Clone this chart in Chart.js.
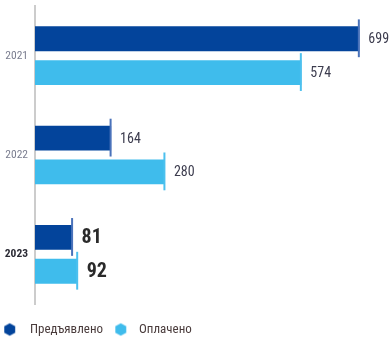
<!DOCTYPE html>
<html>
<head>
<meta charset="utf-8">
<script src="https://cdn.jsdelivr.net/npm/chart.js@4"></script>
<style>
  html, body { margin: 0; padding: 0; background: #ffffff; }
  #wrap { width: 392px; height: 345px; position: relative; }
</style>
</head>
<body>
<div id="wrap"><canvas id="c"></canvas></div>
<script>
const years = ['2021', '2022', '2023'];
const seriesNames = ['Предъявлено', 'Оплачено'];
const presented = [699, 164, 81];
const paid = [574, 280, 92];
const seriesColors = ['#03449b', '#3fbcec'];
const capColors = ['#4a72ba', '#4cc0ee'];

const FONT = '"Roboto Condensed", "Open Sans", sans-serif';

function hexIcon(color, offset) {
  const c = document.createElement('canvas');
  c.width = 40; c.height = 16;
  const g = c.getContext('2d');
  const cx = 20 + offset, cy = 8, r = 6.3;
  g.fillStyle = color;
  g.beginPath();
  for (let i = 0; i < 6; i++) {
    const a = Math.PI / 180 * (60 * i - 90);
    const px = cx + r * Math.cos(a), py = cy + r * Math.sin(a);
    if (i === 0) g.moveTo(px, py); else g.lineTo(px, py);
  }
  g.closePath();
  g.fill();
  return c;
}

const endCapsAndLabels = {
  id: 'endCapsAndLabels',
  afterDatasetsDraw(chart) {
    const ctx = chart.ctx;
    chart.data.datasets.forEach((ds, di) => {
      const meta = chart.getDatasetMeta(di);
      meta.data.forEach((bar, i) => {
        const h = bar.height;
        ctx.save();
        ctx.strokeStyle = capColors[di];
        ctx.lineWidth = 2;
        ctx.beginPath();
        ctx.moveTo(bar.x - 0.5, bar.y - h / 2 - 7);
        ctx.lineTo(bar.x - 0.5, bar.y + h / 2 + 6);
        ctx.stroke();
        const bold = i === 2;
        ctx.font = (bold ? 'bold 20px ' : '14px ') + FONT;
        ctx.fillStyle = bold ? '#2a2a2a' : '#3c3c4e';
        ctx.textAlign = 'left';
        ctx.textBaseline = 'middle';
        ctx.fillText(String(ds.data[i]), bar.x + 9, bar.y + 1);
        ctx.restore();
      });
    });
  }
};

new Chart(document.getElementById('c'), {
  type: 'bar',
  data: {
    labels: years,
    datasets: [
      { label: seriesNames[0], data: presented, backgroundColor: seriesColors[0], pointStyle: hexIcon(seriesColors[0], -8.5),
        categoryPercentage: 0.68, barPercentage: 0.735 },
      { label: seriesNames[1], data: paid, backgroundColor: seriesColors[1], pointStyle: hexIcon(seriesColors[1], -6.5),
        categoryPercentage: 0.68, barPercentage: 0.735 }
    ]
  },
  options: {
    indexAxis: 'y',
    responsive: true,
    maintainAspectRatio: false,
    animation: false,
    layout: { padding: { top: 6, right: 9, bottom: 0, left: -6 } },
    scales: {
      x: { display: false, min: 0, max: 750 },
      y: {
        grid: { display: false, drawTicks: false },
        border: { display: true, color: '#cccccc', width: 2 },
        afterFit(scale) { scale.width = 41; scale.paddingTop = 0; scale.paddingBottom = 0; },
        ticks: {
          padding: 7,
          color: (c) => c.index === 2 ? '#2b2b35' : '#7a7d8f',
          font: (c) => c.index === 2 ? { family: FONT, size: 11.5, weight: 'bold' } : { family: FONT, size: 11.5 }
        }
      }
    },
    plugins: {
      tooltip: { enabled: false },
      legend: {
        position: 'bottom',
        align: 'start',
        maxHeight: 41,
        labels: {
          usePointStyle: true,
          pointStyleWidth: 10.5,
          padding: 19,
          color: '#4a3c3c',
          font: { family: FONT, size: 13 }
        }
      }
    }
  },
  plugins: [endCapsAndLabels]
});
</script>
</body>
</html>
